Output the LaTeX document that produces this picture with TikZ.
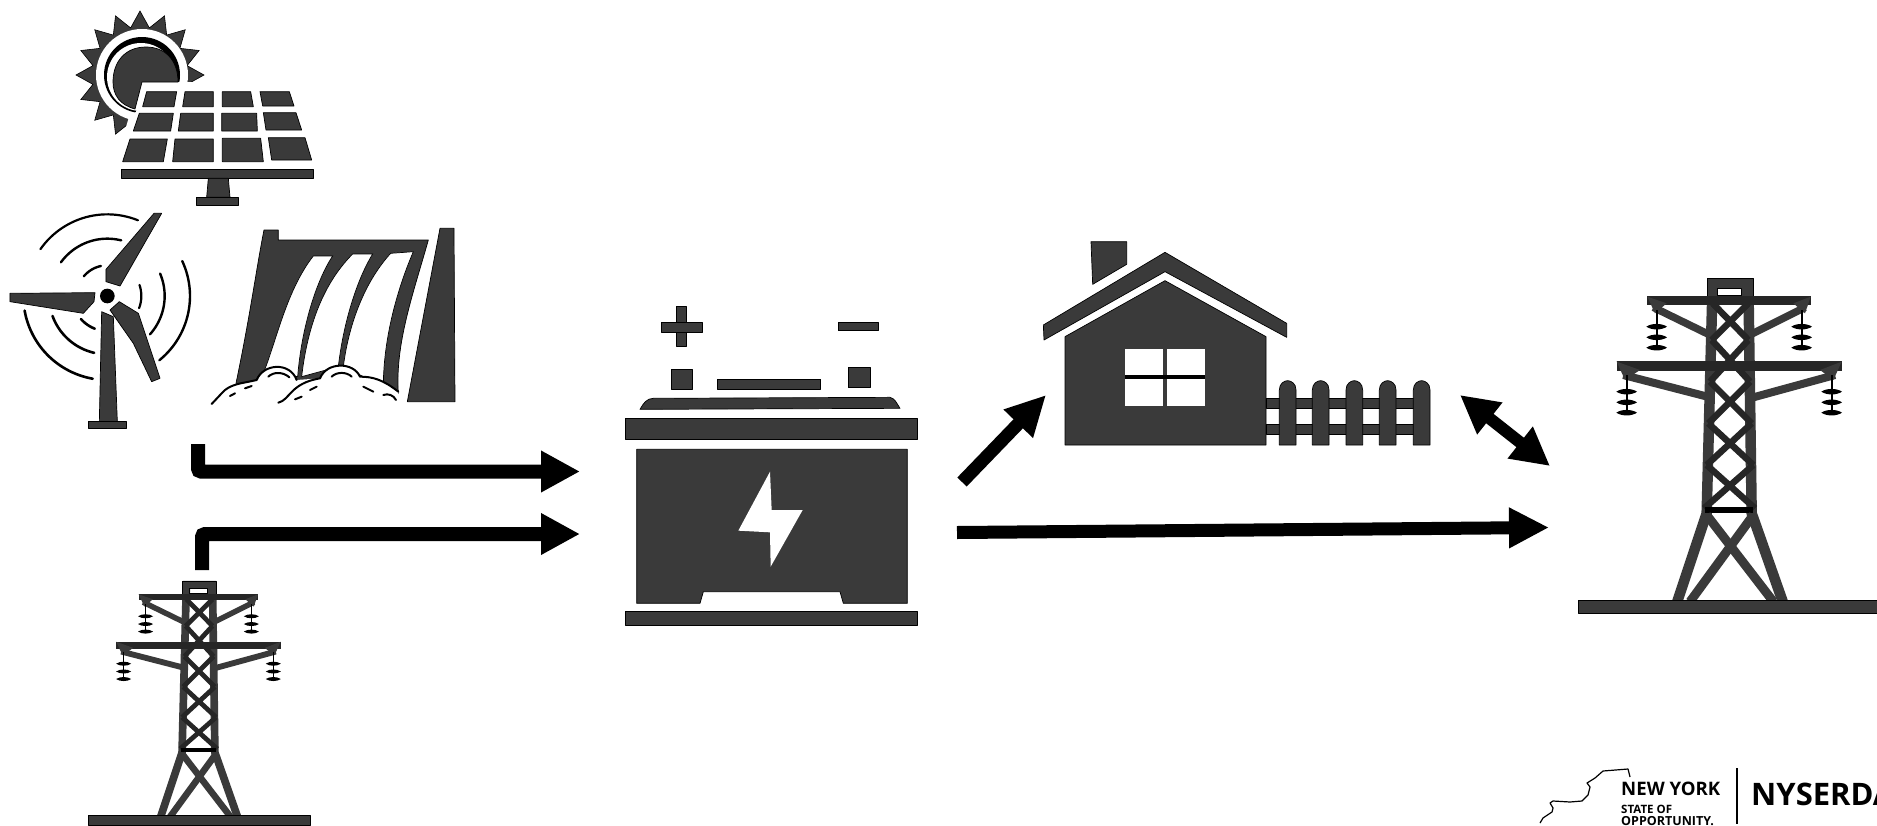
\documentclass[tikz,border=0pt]{standalone}
\usepackage{fontspec}
\setmainfont{Open Sans}
\usetikzlibrary{arrows.meta}
\definecolor{ink}{HTML}{3A3A3A}
\tikzset{
  icon/.style={fill=ink,draw=black,line width=0.7pt,line join=round},
  cut/.style={fill=white,draw=none},
  zoomed/.style={x=0.33333pt,y=-0.33333pt},
  flow/.style={line width=14pt,rounded corners=3pt,-{Triangle[length=39pt,width=39pt]}},
  flowthin/.style={line width=13pt,-{Triangle[length=40pt,width=38pt]}},
  flowb/.style={line width=12pt,{Triangle[length=38pt,width=38pt]}-{Triangle[length=38pt,width=38pt]}},
  wave/.style={draw=black,line cap=round},
  cloudline/.style={draw=black,line width=2pt,line cap=round,line join=round},
}
\newcommand{\towerdraw}[1]{%
  \def\tws{#1}%
  \begin{scope}[draw=ink,line cap=butt,line join=round]
  % legs
  \draw[line width=\tws*10.5pt] (458,60) -- (440,760) -- (350,1030);
  \draw[line width=\tws*10.5pt] (565,60) -- (575,760) -- (670,1030);
  % cap
  \fill[ink,draw=black,line width=\tws*1pt,even odd rule] (443,55) rectangle (580,110) (472,85) rectangle (545,105);
  % arms
  \draw[black!85,line width=\tws*8.5pt] (262,122) -- (752,122);
  \draw[line width=\tws*7.5pt] (280,142) -- (450,225);
  \draw[line width=\tws*7.5pt] (735,142) -- (575,222);
  \draw[black!85,line width=\tws*10pt] (170,319) -- (845,319);
  \draw[line width=\tws*8pt] (190,345) -- (450,412);
  \draw[line width=\tws*8pt] (825,345) -- (580,412);
  \fill[ink] (262,110) -- (320,130) -- (285,160) -- cycle;
  \fill[ink] (752,110) -- (700,130) -- (735,160) -- cycle;
  \fill[ink] (170,305) -- (240,330) -- (195,360) -- cycle;
  \fill[ink] (845,305) -- (780,330) -- (820,360) -- cycle;
  % lattice
  \begin{scope}[line width=\tws*6.5pt,draw=black!85]
  \draw (458,130) -- (565,240) (565,130) -- (455,240);
  \draw (455,240) -- (570,365) (565,240) -- (450,365);
  \draw (450,365) -- (575,490) (570,365) -- (445,490);
  \draw (445,490) -- (580,615) (575,490) -- (440,615);
  \draw (440,615) -- (585,745) (580,615) -- (432,745);
  \end{scope}
  \draw[black,line width=\tws*6pt] (435,750) -- (580,750);
  \draw[line width=\tws*9pt] (440,765) -- (640,1025);
  \draw[line width=\tws*9pt] (580,765) -- (390,1025);
  % insulators
  \foreach \ix/\iy in {290/170,725/170,200/365,815/365}{
    \draw[black,line width=\tws*2pt] (\ix,\iy-20) -- (\ix,\iy+95);
    \foreach \iz in {30,62,93}{
      \fill[black] (\ix-31,\iy+\iz) .. controls (\ix-15,\iy+\iz-11) and (\ix+15,\iy+\iz-11) .. (\ix+31,\iy+\iz) .. controls (\ix+15,\iy+\iz+11) and (\ix-15,\iy+\iz+11) .. (\ix-31,\iy+\iz) -- cycle;
    }
  }
  \end{scope}
}
\begin{document}
\begin{tikzpicture}[x=1pt,y=-1pt]
\useasboundingbox (0,0) rectangle (1877,825);
\clip (0,0) rectangle (1877,825);
\fill[white] (0,0) rectangle (1877,825);

% ---- sun
\begin{scope}
\def\scx{140}\def\scy{75}
\fill[ink,draw=black,line width=0.6pt] (\scx+64,\scy)
  \foreach \a in {0,22.5,...,337.5}{
    -- ({\scx+64*cos(\a)},{\scy+64*sin(\a)}) -- ({\scx+48*cos(\a+11.25)},{\scy+48*sin(\a+11.25)})
  } -- cycle;
\fill[white] (142,75) circle[radius=46];
\fill[black] (142,75) circle[radius=38];
\fill[white] (141,77) circle[radius=34];
\fill[white] (122,140) -- (129,117) -- (136,112) -- (142,82) -- (205,82) -- (205,140) -- cycle;
\path[icon] (178,82) .. controls (178,60) and (165,47) .. (146,47) .. controls (125,47) and (113,62) .. (113,82) .. controls (113,95) and (120,105) .. (135,109) -- (142,82) -- cycle;
\end{scope}

% ---- solar panel
\begin{scope}[zoomed]
\foreach \p in {
  {(440,275)--(530,275)--(522,320)--(428,320)},
  {(555,275)--(640,275)--(640,320)--(548,320)},
  {(667,275)--(752,275)--(760,320)--(667,320)},
  {(780,275)--(868,275)--(882,318)--(788,318)},
  {(418,340)--(520,340)--(512,393)--(400,393)},
  {(542,340)--(640,340)--(640,393)--(535,393)},
  {(665,340)--(770,340)--(772,393)--(665,393)},
  {(790,338)--(888,338)--(905,390)--(798,390)},
  {(390,417)--(502,417)--(490,485)--(368,485)},
  {(525,417)--(640,417)--(640,485)--(518,485)},
  {(667,415)--(782,415)--(790,485)--(667,485)},
  {(805,413)--(915,413)--(935,480)--(815,480)}}{
  \path[icon] \p -- cycle;
}
\path[icon] (365,508) rectangle (940,535);
\path[icon] (625,535) -- (685,535) -- (690,592) -- (620,592) -- cycle;
\path[icon] (590,592) rectangle (715,615);
\end{scope}

% ---- wind turbine
\begin{scope}[zoomed]
\foreach \r/\s/\e/\w in {245/215/292/2.2, 172/216/284/2.4, 92/220/258/2.4,
   248/-25/51/2.4, 172/-23/42/2.4, 102/-19/21/2.2,
   252/100/170/2.6, 175/103/160/2.6, 105/111/139/2.6}{
  \draw[wave,line width=\w pt] plot[domain=\s:\e,samples=30,smooth] ({322+\r*cos(\x)},{888+\r*sin(\x)});
}
\path[icon] (485,640) -- (462,640) -- (318,808) -- (318,845) -- (360,858) -- cycle;
\path[icon] (30,880) -- (285,878) -- (282,905) -- (250,940) -- (30,905) -- cycle;
\path[icon] (358,905) -- (330,930) -- (400,1030) -- (455,1145) -- (480,1135) -- (415,940) -- cycle;
\path[icon] (305,935) -- (340,950) -- (352,1265) -- (298,1265) -- cycle;
\path[icon] (265,1265) rectangle (380,1285);
\fill[black] (322,888) circle[radius=22];
\end{scope}

% ---- dam
\begin{scope}[zoomed]
\path[icon] (1320,685) -- (1362,685) -- (1365,1205) -- (1222,1205) -- cycle;
\path[icon] (792,690) -- (835,690) -- (835,720) -- (1285,720) .. controls (1240,880) and (1185,1030) .. (1195,1180) -- (708,1150) .. controls (750,950) and (770,800) .. (792,690) -- cycle;
\fill[white,draw=black,line width=0.7pt] (940,768) -- (998,768) .. controls (950,840) and (905,980) .. (893,1130) -- (790,1120) .. controls (830,1020) and (860,870) .. (940,768) -- cycle;
\fill[white,draw=black,line width=0.7pt] (1058,762) -- (1118,762) .. controls (1070,840) and (1030,970) .. (1015,1100) -- (905,1130) .. controls (920,1000) and (960,860) .. (1058,762) -- cycle;
\fill[white,draw=black,line width=0.7pt] (1172,760) -- (1240,755) .. controls (1195,860) and (1150,1010) .. (1150,1160) -- (1030,1100) .. controls (1045,980) and (1090,850) .. (1172,760) -- cycle;
\fill[white] (635,1212) -- (665,1180) .. controls (690,1150) and (730,1150) .. (770,1140) .. controls (790,1090) and (870,1085) .. (890,1140) -- (960,1135) .. controls (980,1085) and (1060,1085) .. (1080,1130) .. controls (1120,1130) and (1150,1140) .. (1195,1175) -- (1190,1212) -- cycle;
\path[cloudline] (635,1212) -- (665,1180) .. controls (690,1150) and (730,1150) .. (770,1140) .. controls (790,1090) and (870,1085) .. (890,1140) (835,1208) .. controls (870,1200) and (870,1150) .. (960,1135) .. controls (980,1085) and (1060,1085) .. (1080,1130) .. controls (1120,1130) and (1150,1140) .. (1195,1175);
\path[cloudline] (705,1180) -- (690,1188) (735,1165) -- (755,1158) (805,1130) .. controls (820,1115) and (850,1115) .. (868,1132) (885,1198) -- (905,1190) (930,1170) -- (950,1160) (995,1130) .. controls (1010,1115) and (1040,1115) .. (1055,1130) (1090,1160) -- (1120,1175) (1150,1185) .. controls (1165,1180) and (1180,1185) .. (1188,1200);
\end{scope}

% ---- battery
\begin{scope}[zoomed,shift={(600pt,-290pt)}]
\path[icon] (230,50) rectangle (258,170);
\path[icon] (185,98) rectangle (308,127);
\fill[ink] (231,99) rectangle (257,126);
\path[icon] (715,97) rectangle (835,122);
\path[icon] (213,237) rectangle (277,297);
\path[icon] (745,232) rectangle (810,293);
\path[icon] (353,268) rectangle (662,297);
\path[icon] (120,358) .. controls (130,340) and (140,325) .. (160,325) -- (870,322) .. controls (885,325) and (890,340) .. (900,355) -- cycle;
\path[icon] (75,385) rectangle (952,448);
\path[icon] (110,478) -- (922,478) -- (922,940) -- (730,940) -- (720,905) -- (310,905) -- (300,940) -- (110,940) -- cycle;
\path[icon] (75,965) rectangle (952,1005);
\fill[white] (510,545) -- (515,660) -- (608,660) -- (512,830) -- (510,727) -- (415,722) -- cycle;
\end{scope}

% ---- house
\begin{scope}[zoomed,shift={(1020pt,-220pt)}]
\path[icon] (213,65) -- (320,65) -- (320,133) -- (218,193) -- cycle;
\path[icon] (435,97) -- (800,310) -- (800,352) -- (435,155) -- (72,360) -- (70,315) -- cycle;
\path[icon] (435,182) -- (738,350) -- (738,675) -- (135,675) -- (135,350) -- cycle;
\fill[white] (315,388) rectangle (555,558);
\fill[ink] (428,388) rectangle (442,558);
\fill[black] (315,466) rectangle (555,477);
\path[icon] (738,535) rectangle (1228,565);
\path[icon] (738,612) rectangle (1228,642);
\foreach \f in {803,902,1003,1103,1205}{
  \path[icon] (\f-25,675) -- (\f-25,510) .. controls (\f-25,490) and (\f-10,482) .. (\f,482) .. controls (\f+10,482) and (\f+25,490) .. (\f+25,510) -- (\f+25,675) -- cycle;
}
\end{scope}

% ---- towers
\begin{scope}[x=0.2433pt,y=-0.2433pt,shift={(75pt,-567.6pt)}]
\towerdraw{0.73}
\end{scope}
\path[icon] (88,815) rectangle (310,825);
\begin{scope}[zoomed,shift={(1560pt,-260pt)}]
\towerdraw{1}
\end{scope}
\path[icon] (1578,600) rectangle (1879,613);

% ---- connector ends
\coordinate (renewOut) at (198,444);
\coordinate (batInA) at (580,471.5);
\coordinate (gridOut) at (202,570);
\coordinate (batInB) at (580,534);
\coordinate (batOutA) at (962,482);
\coordinate (houseIn) at (1046,395);
\coordinate (batOutB) at (957,532.5);
\coordinate (gridIn) at (1549,527.5);
\coordinate (houseGrid) at (1460,395);
\coordinate (gridHouse) at (1550,466);

\draw[flow] (renewOut) |- (batInA);
\draw[flow] (gridOut) |- (batInB);
\draw[flowthin] (batOutA) -- (houseIn);
\draw[flowthin] (batOutB) -- (gridIn);
\draw[flowb] (houseGrid) -- (gridHouse);

% ---- logo
\draw[black,line width=1.2pt,line join=round] (1540,823) -- (1543,818) -- (1552,812) -- (1553,808) -- (1550,803) -- (1553,801) -- (1570,802) -- (1582,801) -- (1588,795) -- (1590,787) -- (1587,783) -- (1595,778) -- (1603,771) -- (1628,769) -- (1630,777);
\draw[black,line width=1.2pt] (1737,768) -- (1737,824);
\node[anchor=base west,inner sep=0pt,font=\fontsize{18.6}{18}\selectfont\bfseries] (logoNY) at (1621,795) {NEW YORK};
\node[anchor=base west,inner sep=0pt,font=\fontsize{11.5}{11}\selectfont\bfseries] (logoState) at (1621,813) {STATE OF};
\node[anchor=base west,inner sep=0pt,font=\fontsize{12.5}{12}\selectfont\bfseries] (logoOpp) at (1621,825.5) {OPPORTUNITY.};
\node[anchor=base west,inner sep=0pt,font=\fontsize{31}{31}\selectfont\bfseries] (logoN) at (1751,805) {NYSERDA};
\end{tikzpicture}
\end{document}
